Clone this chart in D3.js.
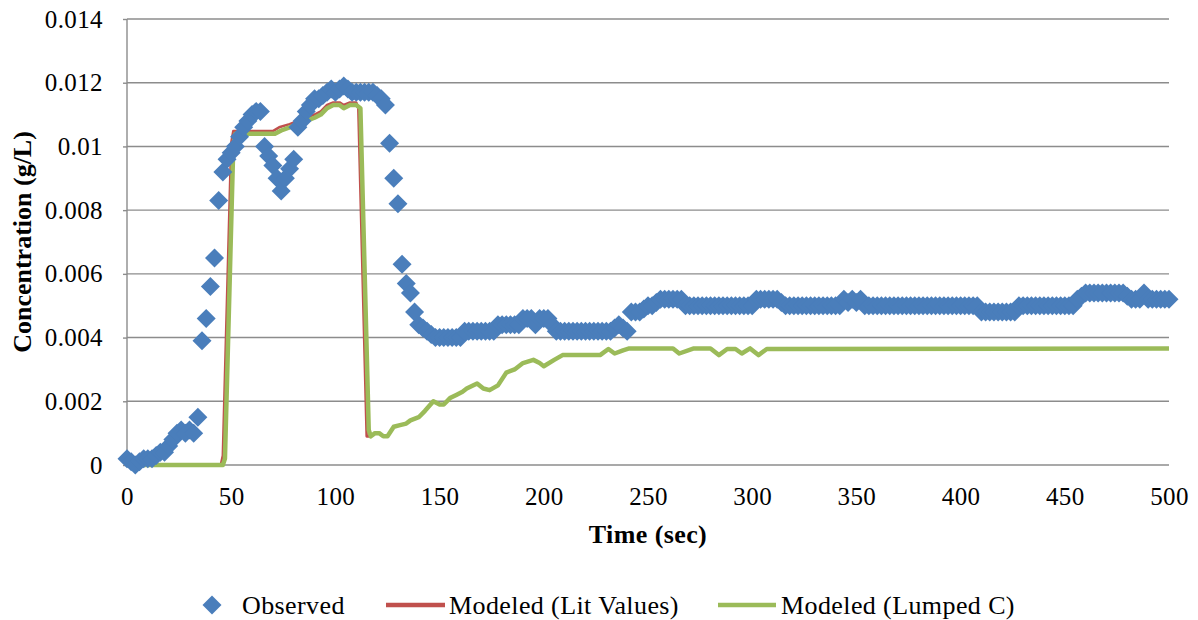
<!DOCTYPE html>
<html>
<head>
<meta charset="utf-8">
<script src="https://cdn.jsdelivr.net/npm/d3@7"></script>
<style>
  body { margin: 0; background: #fff; }
  svg text { font-family: "Liberation Serif", "Times New Roman", Times, "DejaVu Serif", serif; fill: #000; }
</style>
</head>
<body>
<svg id="chart" width="1198" height="620"></svg>
<script>
// observed concentration, one reading every 2 sec from 0 to 500
var obsStep = 2;
var obsConc = [
  .0002,.0001,.0000,.0001,.0002,.0002,.0002,.0003,.0004,.0004,
  .0006,.0008,.0010,.0011,.0010,.0011,.0010,.0015,.0039,.0046,
  .0056,.0065,.0083,.0092,.0096,.0098,.0100,.0103,.0106,.0108,
  .0110,.0111,.0111,.0100,.0097,.0094,.0090,.0086,.0090,.0093,
  .0096,.0106,.0108,.0111,.0113,.0115,.0115,.0116,.0117,.0118,
  .0117,.0118,.0119,.0118,.0117,.0117,.0117,.0117,.0117,.0117,
  .0116,.0115,.0113,.0101,.0090,.0082,.0063,.0057,.0054,.0048,
  .0044,.0043,.0042,.0041,.0040,.0040,.0040,.0040,.0040,.0040,
  .0040,.0042,.0042,.0042,.0042,.0042,.0042,.0042,.0042,.0044,
  .0044,.0044,.0044,.0044,.0044,.0046,.0046,.0046,.0044,.0046,
  .0046,.0046,.0044,.0042,.0042,.0042,.0042,.0042,.0042,.0042,
  .0042,.0042,.0042,.0042,.0042,.0042,.0042,.0043,.0044,.0043,
  .0042,.0048,.0048,.0048,.0049,.0050,.0050,.0051,.0052,.0052,
  .0052,.0052,.0052,.0052,.0050,.0050,.0050,.0050,.0050,.0050,
  .0050,.0050,.0050,.0050,.0050,.0050,.0050,.0050,.0050,.0050,
  .0050,.0052,.0052,.0052,.0052,.0052,.0052,.0051,.0050,.0050,
  .0050,.0050,.0050,.0050,.0050,.0050,.0050,.0050,.0050,.0050,
  .0050,.0050,.0052,.0051,.0052,.0051,.0052,.0050,.0050,.0050,
  .0050,.0050,.0050,.0050,.0050,.0050,.0050,.0050,.0050,.0050,
  .0050,.0050,.0050,.0050,.0050,.0050,.0050,.0050,.0050,.0050,
  .0050,.0050,.0050,.0050,.0050,.0048,.0048,.0048,.0048,.0048,
  .0048,.0048,.0048,.0048,.0050,.0050,.0050,.0050,.0050,.0050,
  .0050,.0050,.0050,.0050,.0050,.0050,.0050,.0050,.0052,.0053,
  .0054,.0054,.0054,.0054,.0054,.0054,.0054,.0054,.0054,.0054,
  .0053,.0052,.0052,.0052,.0054,.0052,.0052,.0052,.0052,.0052,
  .0052
];

// modeled, literature values
var litTime = [0,45,46,50,51,70,73,78,82,86,90,93,96,99,102,104,107,110,111,115,117,119,121,123,125,128,131,134,136,140,143,147,150,152,155,158,161,163,168,171,174,178,182,186,190,195,198,200,205,209,227,231,234,238,241,262,265,272,280,284,288,292,295,299,303,307,500];
var litConc = [0,0,.0003,.0101,.01048,.01048,.0106,.0107,.0108,.0109,.0110,.0111,.0113,.01138,.01138,.0113,.01138,.01138,.0112,.0009,.0009,.0010,.0010,.0009,.0009,.0012,.00125,.0013,.0014,.0015,.0017,.0020,.0019,.0019,.0021,.0022,.0023,.0024,.00256,.0024,.00235,.0025,.0029,.0030,.0032,.0033,.0032,.0031,.0033,.00345,.00345,.00364,.0035,.0036,.00366,.00366,.0035,.00366,.00366,.00345,.00364,.00364,.0035,.00366,.00345,.00364,.00366];

// modeled, lumped C
var lumpTime = [0,46,47,51,52,71,74,78,82,86,90,93,96,99,102,104,107,110,112,116,117,119,121,123,125,128,131,134,136,140,143,147,150,152,155,158,161,163,168,171,174,178,182,186,190,195,198,200,205,209,227,231,234,238,241,262,265,272,280,284,288,292,295,299,303,307,500];
var lumpConc = [0,0,.0002,.0100,.0104,.0104,.0105,.0106,.0107,.0108,.0109,.0110,.0112,.0113,.0113,.0112,.0113,.0113,.0112,.0011,.0009,.0010,.0010,.0009,.0009,.0012,.00125,.0013,.0014,.0015,.0017,.0020,.0019,.0019,.0021,.0022,.0023,.0024,.00256,.0024,.00235,.0025,.0029,.0030,.0032,.0033,.0032,.0031,.0033,.00345,.00345,.00364,.0035,.0036,.00366,.00366,.0035,.00366,.00366,.00345,.00364,.00364,.0035,.00366,.00345,.00364,.00366];

var xTicks = [0,50,100,150,200,250,300,350,400,450,500];
var yTicks = [0,.002,.004,.006,.008,.010,.012,.014];
var yTickLabels = ["0","0.002","0.004","0.006","0.008","0.01","0.012","0.014"];

var legendNames = ["Observed", "Modeled (Lit Values)", "Modeled (Lumped C)"];

var blue = "#4a7ebb", red = "#c0504d", green = "#9bbb59", grid = "#8c8c8c";
var serif = "'Liberation Serif', 'Times New Roman', Times, 'DejaVu Serif', serif";

var margin = {top: 19, left: 127, right: 29, bottom: 155};
var W = 1198, H = 620;
var iw = W - margin.left - margin.right,
    ih = H - margin.top - margin.bottom;

var svg = d3.select("#chart");
var g = svg.append("g").attr("transform", "translate(" + margin.left + "," + margin.top + ")");

var x = d3.scaleLinear().domain([0, 500]).range([0, iw]);
var y = d3.scaleLinear().domain([0, 0.014]).range([ih, 0]);

// gridlines
g.append("g").selectAll("line")
    .data(yTicks).enter()
    .append("line")
    .attr("x1", 0).attr("x2", iw)
    .attr("y1", function(d){ return y(d); })
    .attr("y2", function(d){ return y(d); })
    .style("stroke", grid)
    .style("stroke-width", 1.4);

g.append("line")
    .attr("x1", 0).attr("x2", 0)
    .attr("y1", 0).attr("y2", ih)
    .style("stroke", grid)
    .style("stroke-width", 1.4);

// y axis labels
var yAxis = d3.axisLeft(y).tickValues(yTicks)
    .tickFormat(function(d, i){ return yTickLabels[i]; })
    .tickSize(4).tickPadding(20);
var ya = g.append("g").call(yAxis);
ya.select(".domain").remove();
ya.selectAll("line").style("stroke", grid).style("stroke-width", 1.4);
ya.selectAll("text").style("font-size", "25px").style("font-family", serif)
    .style("letter-spacing", "0.4px");

var xAxis = d3.axisBottom(x).tickValues(xTicks).tickSize(0).tickPadding(22);
var xa = g.append("g").attr("transform", "translate(0," + ih + ")").call(xAxis);
xa.select(".domain").remove();
xa.selectAll("text").style("font-size", "25px").style("font-family", serif)
    .style("letter-spacing", "0.4px");

// modeled lines
var line = d3.line()
    .x(function(d){ return x(d[0]); })
    .y(function(d){ return y(d[1]); });

g.append("path")
    .datum(d3.zip(litTime, litConc))
    .attr("d", line)
    .style("fill", "none")
    .style("stroke", red)
    .style("stroke-width", 2.6)
    .style("stroke-linejoin", "round");

g.append("path")
    .datum(d3.zip(lumpTime, lumpConc))
    .attr("d", line)
    .style("fill", "none")
    .style("stroke", green)
    .style("stroke-width", 4.5)
    .style("stroke-linejoin", "round");

// observed diamonds
var dia = "M0,-9.5L9.5,0L0,9.5L-9.5,0Z";
g.append("g").selectAll("path")
    .data(obsConc).enter()
    .append("path")
    .attr("d", dia)
    .attr("transform", function(d, i){
        return "translate(" + x(i * obsStep) + "," + y(d) + ")";
    })
    .style("fill", blue);

// axis titles
svg.append("text")
    .attr("x", margin.left + iw / 2)
    .attr("y", 543)
    .attr("text-anchor", "middle")
    .style("font-size", "26px")
    .style("font-weight", "bold")
    .style("font-family", serif)
    .style("letter-spacing", "0.4px")
    .text("Time (sec)");

svg.append("text")
    .attr("transform", "translate(31," + (margin.top + ih / 2) + ") rotate(-90)")
    .attr("text-anchor", "middle")
    .style("font-size", "26px")
    .style("font-weight", "bold")
    .style("font-family", serif)
    .text("Concentration (g/L)");

// legend
var ly = 605;
var legText = function(xp, s){
    svg.append("text").attr("x", xp).attr("y", ly + 9)
        .style("font-size", "26px").style("font-family", serif)
        .style("letter-spacing", "0.4px").text(s);
};
svg.append("path")
    .attr("d", dia)
    .attr("transform", "translate(212," + ly + ")")
    .style("fill", blue);
legText(242, legendNames[0]);

svg.append("line")
    .attr("x1", 386).attr("x2", 445).attr("y1", ly).attr("y2", ly)
    .style("stroke", red).style("stroke-width", 4.5);
legText(449, legendNames[1]);

svg.append("line")
    .attr("x1", 718).attr("x2", 776).attr("y1", ly).attr("y2", ly)
    .style("stroke", green).style("stroke-width", 4.5);
legText(781, legendNames[2]);
</script>
</body>
</html>
